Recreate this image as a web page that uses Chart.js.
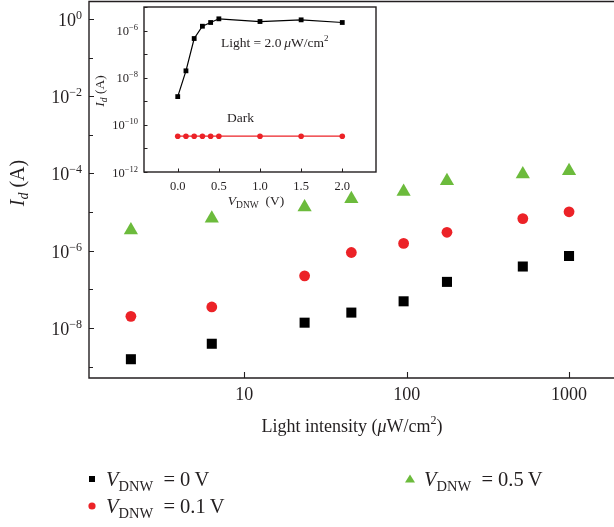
<!DOCTYPE html>
<html>
<head>
<meta charset="utf-8">
<script src="https://cdn.jsdelivr.net/npm/chart.js@4/dist/chart.umd.min.js"></script>
<style>
  html, body { margin: 0; padding: 0; background: #fff; overflow: hidden; }
  #wrap { position: relative; width: 614px; height: 527px; }
  #main { position: absolute; left: 0; top: 0; }
  #inset { position: absolute; left: 90px; top: 0; }
</style>
</head>
<body>
<div id="wrap">
  <canvas id="main" width="614" height="527"></canvas>
  <canvas id="inset" width="290" height="215"></canvas>
</div>
<script>
// ---- main panel: photocurrent vs light intensity ----
const intensity = [2.0, 6.3, 23.5, 45.6, 95.7, 177, 519, 1000];
const id0V  = [1.55e-9, 3.9e-9, 1.37e-8, 2.5e-8, 4.9e-8, 1.56e-7, 3.9e-7, 7.3e-7];
const id01V = [2.0e-8, 3.5e-8, 2.24e-7, 9.0e-7, 1.55e-6, 3.0e-6, 6.8e-6, 1.02e-5];
const id05V = [3.4e-6, 6.9e-6, 1.35e-5, 2.2e-5, 3.4e-5, 6.4e-5, 9.6e-5, 1.17e-4];
const xTicks = [10, 100, 1000];
const yExps = [0, -1, -2, -3, -4, -5, -6, -7, -8, -9];

// ---- inset: Id vs V_DNW, light vs dark ----
const vdnw = [0, 0.1, 0.2, 0.3, 0.4, 0.5, 1.0, 1.5, 2.0];
const idLight = [1.58e-9, 1.96e-8, 4.6e-7, 1.53e-6, 2.2e-6, 3.15e-6, 2.42e-6, 2.85e-6, 2.2e-6];
const idDark = [3.3e-11, 3.3e-11, 3.3e-11, 3.3e-11, 3.3e-11, 3.3e-11, 3.3e-11, 3.3e-11, 3.3e-11];
const insetXTicks = [0, 0.5, 1.0, 1.5, 2.0];
const insetYExps = [-5, -6, -7, -8, -9, -10, -11, -12];

const INK = "#231f20", RED = "#ec2227", GREEN = "#6cbb3c";
const SERIF = "'Liberation Serif', 'Times New Roman', serif";

// draw a run of text pieces: {t, size, it, dy}
function rich(ctx, parts, x, y, align) {
  const fnt = (p) => `${p.it ? "italic " : ""}${p.size}px ${SERIF}`;
  let w = 0;
  parts.forEach((p) => { ctx.font = fnt(p); w += ctx.measureText(p.t).width; });
  let cx = align === "right" ? x - w : align === "center" ? x - w / 2 : x;
  parts.forEach((p) => {
    ctx.font = fnt(p);
    ctx.fillText(p.t, cx, y + (p.dy || 0));
    cx += ctx.measureText(p.t).width;
  });
  return w;
}
const pow10 = (e, big, small, rise) => [{ t: "10", size: big }, { t: (e < 0 ? "\u2212" + (-e) : "" + e), size: small, dy: -rise }];

const xy = (xs, ys) => xs.map((x, i) => ({ x, y: ys[i] }));

const mainAxes = {
  id: "mainAxes",
  afterDraw(chart) {
    const { ctx, chartArea: a, scales: { x, y } } = chart;
    ctx.save();
    ctx.strokeStyle = INK; ctx.fillStyle = INK; ctx.lineWidth = 1.4;
    ctx.beginPath();
    ctx.moveTo(a.right, a.top + 0.5); ctx.lineTo(a.left, a.top + 0.5);
    ctx.lineTo(a.left, a.bottom); ctx.lineTo(a.right, a.bottom);
    ctx.stroke();
    ctx.lineWidth = 1.1;
    ctx.beginPath();
    yExps.forEach((e) => {
      const py = Math.round(y.getPixelForValue(Math.pow(10, e))) + 0.5;
      ctx.moveTo(a.left, py); ctx.lineTo(a.left + (e % 2 === 0 ? 5 : 4), py);
    });
    xTicks.forEach((v) => {
      const px = Math.round(x.getPixelForValue(v)) + 0.5;
      ctx.moveTo(px, a.bottom); ctx.lineTo(px, a.bottom - 6);
    });
    ctx.stroke();
    ctx.textBaseline = "alphabetic";
    yExps.filter((e) => e % 2 === 0).forEach((e) => {
      const py = y.getPixelForValue(Math.pow(10, e));
      rich(ctx, pow10(e, 18, 12, 7), a.left - 7, py + 7, "right");
    });
    xTicks.forEach((v) => {
      rich(ctx, [{ t: String(v), size: 18 }], x.getPixelForValue(v), 400, "center");
    });
    rich(ctx, [{ t: "Light intensity (", size: 18 }, { t: "\u03bc", size: 18, it: true },
      { t: "W/cm", size: 18 }, { t: "2", size: 12, dy: -8 }, { t: ")", size: 18 }], 352, 432, "center");
    ctx.save();
    ctx.translate(24, 183); ctx.rotate(-Math.PI / 2);
    rich(ctx, [{ t: "I", size: 20, it: true }, { t: "d", size: 14, it: true, dy: 4 }, { t: " (A)", size: 20 }], 0, 0, "center");
    ctx.restore();

    // legend
    const row = (mark, color, label, mx, my) => {
      ctx.fillStyle = color;
      ctx.beginPath();
      if (mark === "rect") ctx.rect(mx - 3, my - 3, 6, 6);
      else if (mark === "circle") ctx.arc(mx, my, 3.6, 0, Math.PI * 2);
      else { ctx.moveTo(mx, my - 4.5); ctx.lineTo(mx + 5, my + 3.5); ctx.lineTo(mx - 5, my + 3.5); ctx.closePath(); }
      ctx.fill();
      ctx.fillStyle = INK;
      rich(ctx, [{ t: "V", size: 20.5, it: true }, { t: "DNW", size: 14.5, dy: 5 }, { t: "  = " + label, size: 20.5 }], mx + 14, my + 7, "left");
    };
    row("rect", "#000", "0\u2009V", 92, 479);
    row("circle", RED, "0.1\u2009V", 92, 506);
    row("tri", GREEN, "0.5\u2009V", 410, 479);
    ctx.restore();
  },
};

new Chart(document.getElementById("main"), {
  type: "scatter",
  data: {
    datasets: [
      { label: "V_DNW = 0 V", data: xy(intensity, id0V), pointStyle: "rect", pointRadius: 7.1, backgroundColor: "#000", borderWidth: 0 },
      { label: "V_DNW = 0.1 V", data: xy(intensity, id01V), pointStyle: "circle", pointRadius: 5.4, backgroundColor: RED, borderWidth: 0 },
      { label: "V_DNW = 0.5 V", data: xy(intensity, id05V), pointStyle: "triangle", pointRadius: 8.2, backgroundColor: GREEN, borderWidth: 0 },
    ],
  },
  options: {
    responsive: false, devicePixelRatio: 1, animation: false,
    layout: { autoPadding: false, padding: { left: 89, top: 1, right: 0, bottom: 149 } },
    plugins: { legend: { display: false }, tooltip: { enabled: false } },
    scales: {
      x: { type: "logarithmic", display: false, min: 1.104, max: 1892 },
      y: { type: "logarithmic", display: false, min: 5.06e-10, max: 2.93 },
    },
  },
  plugins: [mainAxes],
});

const insetAxes = {
  id: "insetAxes",
  beforeDraw(chart) {
    const { ctx, chartArea: a } = chart;
    ctx.save(); ctx.fillStyle = "#fff";
    ctx.fillRect(a.left, a.top, a.right - a.left, a.bottom - a.top);
    ctx.restore();
  },
  afterDraw(chart) {
    const { ctx, chartArea: a, scales: { x, y } } = chart;
    ctx.save();
    ctx.strokeStyle = INK; ctx.fillStyle = INK; ctx.lineWidth = 1.4;
    ctx.strokeRect(a.left, a.top, a.right - a.left, a.bottom - a.top);
    ctx.lineWidth = 1;
    ctx.beginPath();
    insetYExps.forEach((e) => {
      const py = Math.round(y.getPixelForValue(Math.pow(10, e))) + 0.5;
      ctx.moveTo(a.left, py); ctx.lineTo(a.left + 3.5, py);
    });
    insetXTicks.forEach((v) => {
      const px = Math.round(x.getPixelForValue(v)) + 0.5;
      ctx.moveTo(px, a.bottom); ctx.lineTo(px, a.bottom - 3.5);
    });
    ctx.stroke();
    insetYExps.filter((e) => e % 2 === 0).forEach((e) => {
      const py = y.getPixelForValue(Math.pow(10, e));
      rich(ctx, pow10(e, 12.5, 8.5, 5), a.left - 6, py + 4.5, "right");
    });
    insetXTicks.forEach((v) => {
      rich(ctx, [{ t: v.toFixed(1), size: 12.5 }], x.getPixelForValue(v), 190, "center");
    });
    rich(ctx, [{ t: "V", size: 13.5, it: true }, { t: "DNW", size: 9.5, dy: 3 }, { t: "  (V)", size: 13.5 }], 166, 205, "center");
    ctx.save();
    ctx.translate(14, 91); ctx.rotate(-Math.PI / 2);
    rich(ctx, [{ t: "I", size: 13.5, it: true }, { t: "d", size: 9.5, it: true, dy: 3 }, { t: " (A)", size: 13.5 }], 0, 0, "center");
    ctx.restore();
    rich(ctx, [{ t: "Light = 2.0\u2009", size: 13.5 }, { t: "\u03bc", size: 13.5, it: true }, { t: "W/cm", size: 13.5 },
      { t: "2", size: 9, dy: -6 }], 131, 47, "left");
    rich(ctx, [{ t: "Dark", size: 13.5 }], 137, 122, "left");
    ctx.restore();
  },
};

new Chart(document.getElementById("inset"), {
  type: "line",
  data: {
    datasets: [
      { label: "Light", data: xy(vdnw, idLight), borderColor: "#000", borderWidth: 1.2, pointStyle: "rect", pointRadius: 3.4, pointBackgroundColor: "#000", pointBorderWidth: 0, tension: 0 },
      { label: "Dark", data: xy(vdnw, idDark), borderColor: RED, borderWidth: 1.2, pointStyle: "circle", pointRadius: 2.8, pointBackgroundColor: RED, pointBorderWidth: 0, tension: 0 },
    ],
  },
  options: {
    responsive: false, devicePixelRatio: 1, animation: false,
    layout: { autoPadding: false, padding: { left: 54, top: 7, right: 4, bottom: 43 } },
    plugins: { legend: { display: false }, tooltip: { enabled: false } },
    scales: {
      x: { type: "linear", display: false, min: -0.41, max: 2.41 },
      y: { type: "logarithmic", display: false, min: 1e-12, max: 1e-5 },
    },
  },
  plugins: [insetAxes],
});
</script>
</body>
</html>
